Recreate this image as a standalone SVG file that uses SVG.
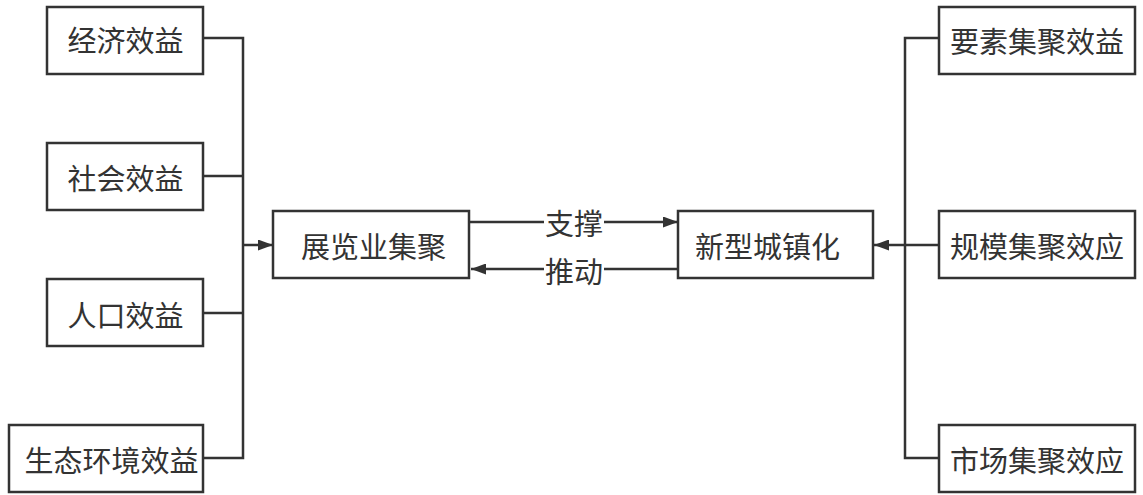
<svg xmlns="http://www.w3.org/2000/svg" width="1143" height="495" viewBox="0 0 1143 495">
<style>
.box{fill:#fff;stroke:#333;stroke-width:2.5}
.t{font-family:"Noto Sans CJK SC","Noto Sans",sans-serif;font-size:29px;fill:#333;text-anchor:middle;dominant-baseline:central}
.ln{fill:none;stroke:#333;stroke-width:2.5}
</style>
<defs>
<marker id="ah" viewBox="0 0 15 11" refX="15" refY="5.5" markerWidth="15" markerHeight="11" markerUnits="userSpaceOnUse" orient="auto">
<path d="M0,0 L15,5.5 L0,11 Z" fill="#333"/>
</marker>
</defs>
<rect width="1143" height="495" fill="#fff"/>
<g id="connectors">
<path class="ln" d="M203,38 H243 V458 H203"/>
<path class="ln" d="M203,176 H243"/>
<path class="ln" d="M203,313 H243"/>
<path class="ln" d="M243,245 H273" marker-end="url(#ah)"/>
<path class="ln" d="M469,222 H678" marker-end="url(#ah)"/>
<path class="ln" d="M678,269 H471" marker-end="url(#ah)"/>
<path class="ln" d="M939,38 H905 V458 H939"/>
<path class="ln" d="M939,245 H874" marker-end="url(#ah)"/>
<rect x="544" y="206" width="60" height="32" fill="#fff"/>
<text class="t" x="574" y="222">支撑</text>
<rect x="544" y="254" width="60" height="32" fill="#fff"/>
<text class="t" x="574" y="270">推动</text>
</g>
<g id="n1"><rect class="box" x="47" y="7" width="156" height="67"/><text class="t" x="125.5" y="39">经济效益</text></g>
<g id="n2"><rect class="box" x="47" y="143" width="156" height="67"/><text class="t" x="125.5" y="177">社会效益</text></g>
<g id="n3"><rect class="box" x="47" y="279" width="156" height="67"/><text class="t" x="125.5" y="314">人口效益</text></g>
<g id="n4"><rect class="box" x="9" y="425" width="194" height="67"/><text class="t" x="111.5" y="459">生态环境效益</text></g>
<g id="n5"><rect class="box" x="273" y="211" width="196" height="67"/><text class="t" x="373.5" y="245">展览业集聚</text></g>
<g id="n6"><rect class="box" x="678" y="211" width="195" height="67"/><text class="t" x="767.5" y="245">新型城镇化</text></g>
<g id="n7"><rect class="box" x="939" y="7" width="196" height="67"/><text class="t" x="1037" y="40">要素集聚效益</text></g>
<g id="n8"><rect class="box" x="939" y="211" width="196" height="67"/><text class="t" x="1037" y="245">规模集聚效应</text></g>
<g id="n9"><rect class="box" x="939" y="425" width="196" height="67"/><text class="t" x="1037" y="459">市场集聚效应</text></g>
</svg>
